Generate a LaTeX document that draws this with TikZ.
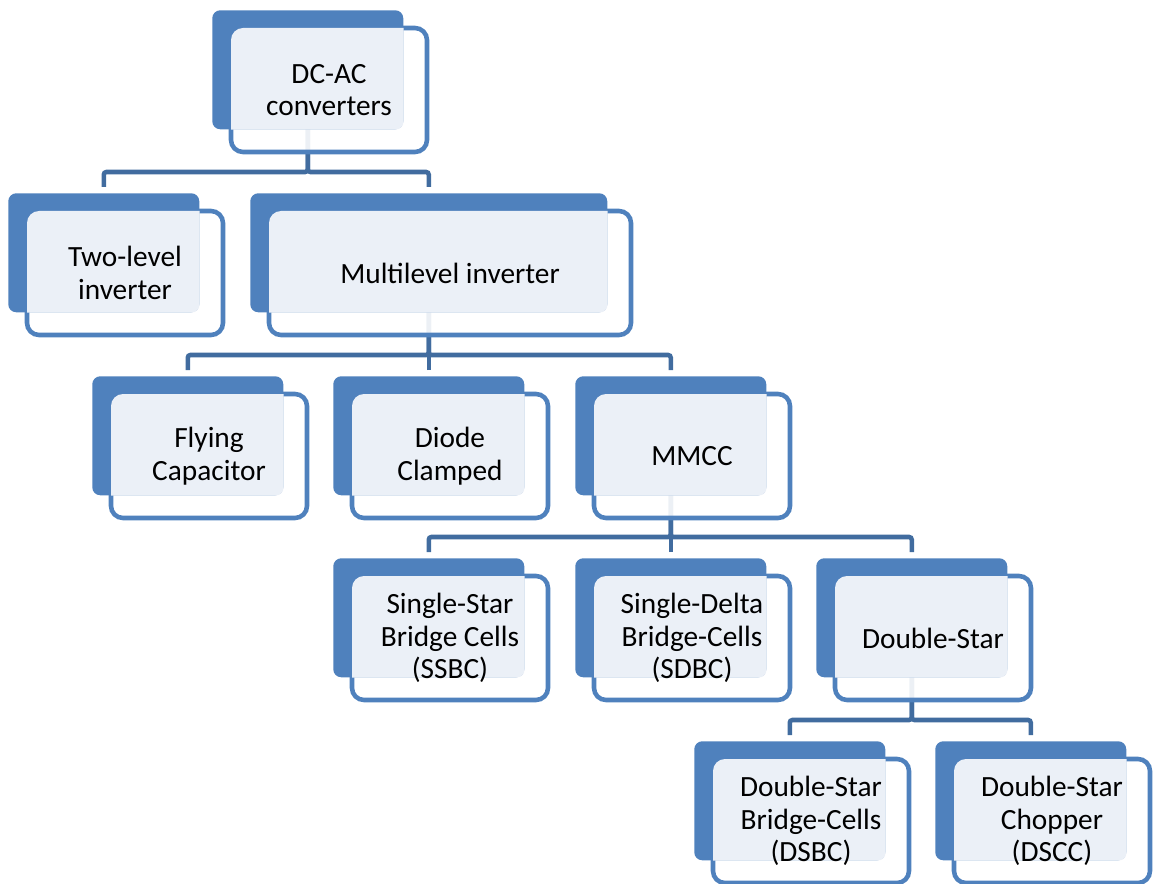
\documentclass[tikz,border=0pt]{standalone}
\usepackage{fontspec}
\setmainfont{Carlito}
\usetikzlibrary{backgrounds}
\definecolor{boxblue}{HTML}{4F81BD}
\definecolor{linkblue}{HTML}{416C9F}
\definecolor{boxtint}{HTML}{EBF0F7}
\tikzset{
  frontface/.style={draw=boxblue, line width=3.4pt, fill=white, fill opacity=0.9, rounded corners=9pt},
  backface/.style={fill=boxblue, rounded corners=6pt, inner sep=0pt, anchor=north west, minimum height=89.25pt},
  tintface/.style={fill=boxtint, rounded corners=9pt},
  boxtext/.style={align=center, font=\fontsize{22}{24.5}\selectfont, inner sep=0.75pt},
  link/.style={draw=linkblue, line width=3.4pt, rounded corners=2pt},
}
% name, left, top, width, text
\newcommand{\tierbox}[5]{%
  \path[frontface] (#2+19,#3+18) rectangle (#2+#4+24,#3+142);
  \node[backface, minimum width=#4*0.75pt] (#1) at (#2,#3) {};
  \begin{scope}
    \clip[rounded corners=6pt] (#1.north west) rectangle (#1.south east);
    \path[tintface] (#2+19,#3+18) rectangle (#2+#4+24,#3+142);
  \end{scope}
  \node[boxtext] (#1-text) at (#2+#4/2+21.5,#3+80) {#5};
}
\begin{document}
\begin{tikzpicture}[x=0.75pt,y=0.75pt,yscale=-1,xscale=1]
\useasboundingbox (0,0) rectangle (1153,884);

% Text Node
\tierbox{dcac}{212}{10}{191}{DC-AC\\converters}
% Text Node
\tierbox{twolevel}{8}{193}{191}{Two-level\\inverter}
% Text Node
\tierbox{multilevel}{250}{193}{357}{Multilevel inverter}
% Text Node
\tierbox{flying}{92}{376}{191}{Flying\\Capacitor}
% Text Node
\tierbox{diode}{333}{376}{191}{Diode\\Clamped}
% Text Node
\tierbox{mmcc}{575}{376}{191}{MMCC}
% Text Node
\tierbox{ssbc}{333}{558}{191}{Single-Star\\Bridge Cells\\(SSBC)}
% Text Node
\tierbox{sdbc}{575}{558}{191}{Single-Delta\\Bridge-Cells\\(SDBC)}
% Text Node
\tierbox{dstar}{816}{558}{191}{Double-Star}
% Text Node
\tierbox{dsbc}{694}{741}{191}{Double-Star\\Bridge-Cells\\(DSBC)}
% Text Node
\tierbox{dscc}{935}{741}{191}{Double-Star\\Chopper\\(DSCC)}

\begin{pgfonlayer}{background}
% Connection
\draw[link] (twolevel.north) ++(0,-6) -- ++(0,-15) -| (dcac.center);
% Connection
\draw[link] (multilevel.north) ++(0,-6) -- ++(0,-15) -| (dcac.center);
% Connection
\draw[link] (flying.north) ++(0,-6) -- ++(0,-15) -| (multilevel.center);
% Connection
\draw[link] (diode.north) ++(0,-6) -- ++(0,-15) -| (multilevel.center);
% Connection
\draw[link] (mmcc.north) ++(0,-6) -- ++(0,-15) -| (multilevel.center);
% Connection
\draw[link] (ssbc.north) ++(0,-6) -- ++(0,-15) -| (mmcc.center);
% Connection
\draw[link] (sdbc.north) ++(0,-6) -- ++(0,-15) -| (mmcc.center);
% Connection
\draw[link] (dstar.north) ++(0,-6) -- ++(0,-15) -| (mmcc.center);
% Connection
\draw[link] (dsbc.north) ++(0,-6) -- ++(0,-15) -| (dstar.center);
% Connection
\draw[link] (dscc.north) ++(0,-6) -- ++(0,-15) -| (dstar.center);
\end{pgfonlayer}

\end{tikzpicture}
\end{document}
